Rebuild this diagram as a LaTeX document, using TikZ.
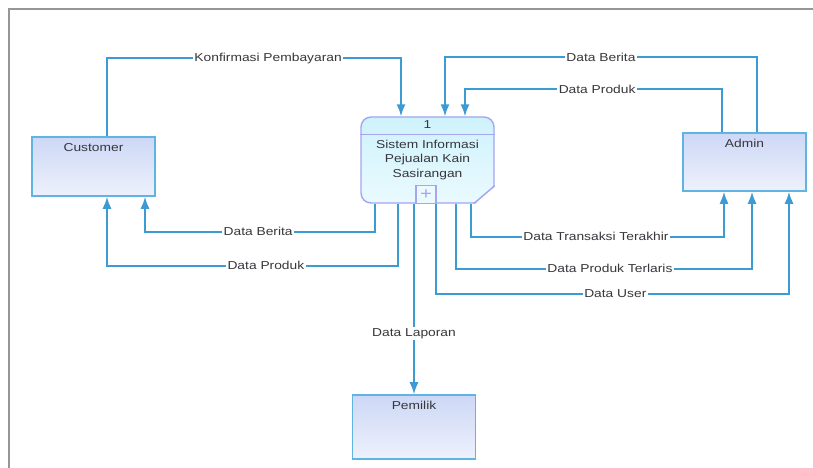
\documentclass[tikz,border=0pt]{standalone}
\usepackage{fontspec}
\setmainfont{Liberation Sans}[FakeStretch=1.2]
\usetikzlibrary{arrows.meta}

\definecolor{flowblue}{RGB}{60,155,210}
\definecolor{entityline}{RGB}{95,180,225}
\definecolor{entitytop}{RGB}{205,216,246}
\definecolor{entitybot}{RGB}{238,241,252}
\definecolor{proctop}{RGB}{206,242,252}
\definecolor{procbot}{RGB}{234,250,254}
\definecolor{procline}{RGB}{165,165,240}
\definecolor{labelgray}{RGB}{55,55,60}
\definecolor{framegray}{RGB}{150,150,150}

\begin{document}
\begin{tikzpicture}[x=1pt,y=-1pt,font=\fontsize{11.5}{14.5}\selectfont]

	\tikzstyle{entity} = [draw=entityline,line width=1.6pt,top color=entitytop,bottom color=entitybot,minimum width=123pt,inner sep=4pt,text height=10pt,text depth=41pt,text=labelgray]
	\tikzstyle{process} = [draw=procline,line width=1.4pt,rounded corners=10pt,top color=proctop,bottom color=procbot,minimum width=133pt,minimum height=86pt,inner sep=0pt]
	\tikzstyle{plusbox} = [draw=procline,line width=1.2pt,fill=procbot,text=procline,font=\fontsize{17}{17}\selectfont,minimum width=20pt,minimum height=18pt,inner sep=0pt]
	\tikzstyle{flow} = [draw=flowblue,line width=1.6pt,-{Latex[length=12pt,width=9pt]}]
	\tikzstyle{lbl} = [fill=white,inner sep=1.5pt,text=labelgray]

	\useasboundingbox (0,0) rectangle (813,468);
	\draw[framegray,line width=2pt] (813,9) -- (9,9) -- (9,468);

	% external entities
	\node[entity] (cust) at (93.5,166.5) {Customer};
	\node[entity,text depth=40pt] (admin) at (744.5,162) {Admin};
	\node[entity,text depth=46pt] (owner) at (414,427) {Pemilik};

	% process 1
	\node[process] (proc) at (427.5,160) {};
	\fill[white] ([xshift=1.5pt,yshift=18pt]proc.south east) -- ([xshift=1.5pt,yshift=-1.5pt]proc.south east) -- ([xshift=-21pt,yshift=-1.5pt]proc.south east) -- cycle;
	\draw[procline,line width=1.4pt] ([yshift=18pt]proc.south east) -- ([xshift=-21pt]proc.south east);
	\draw[procline,line width=1.4pt] ([yshift=-18pt]proc.north west) -- ([yshift=-18pt]proc.north east);
	\node[text=labelgray] (procnum) at ([yshift=-8pt]proc.north) {1};
	\node[align=center,text=labelgray] (proctext) at (proc.center) {Sistem Informasi\\Pejualan Kain\\Sasirangan};
	\node[plusbox] (plus) at ([xshift=-1.5pt,yshift=9pt]proc.south) {+};

	% flows
	\draw[flow] ([xshift=13.5pt]cust.north) -- ++(0,-78) -| node[lbl,pos=.274] {Konfirmasi Pembayaran} ([xshift=-26.5pt]proc.north);
	\draw[flow] ([xshift=12.5pt]admin.north) -- ++(0,-75) -| node[lbl,pos=.25] {Data Berita} ([xshift=17.5pt]proc.north);
	\draw[flow] ([xshift=-22.5pt]admin.north) -- ++(0,-43) -| node[lbl,pos=.243] {Data Produk} ([xshift=37.5pt]proc.north);

	\draw[flow] ([xshift=-52.5pt]proc.south) -- ++(0,28) -| node[lbl,pos=.254] {Data Berita} ([xshift=51.5pt]cust.south);
	\draw[flow] ([xshift=-29.5pt]proc.south) -- ++(0,62) -| node[lbl,pos=.227] {Data Produk} ([xshift=13.5pt]cust.south);

	\draw[flow] (proc.south -| owner.north) -- node[lbl,pos=.68] {Data Laporan} (owner.north);

	\foreach \s/\d/\t/\p/\txt in {43.5/33/-20.5/.247/Data Transaksi Terakhir, 28.5/65/7.5/.26/Data Produk Terlaris, 8.5/90/44.5/.254/Data User}
		\draw[flow] ([xshift=\s pt]proc.south) -- ++(0,\d) -| node[lbl,pos=\p] {\txt} ([xshift=\t pt]admin.south);

\end{tikzpicture}
\end{document}
